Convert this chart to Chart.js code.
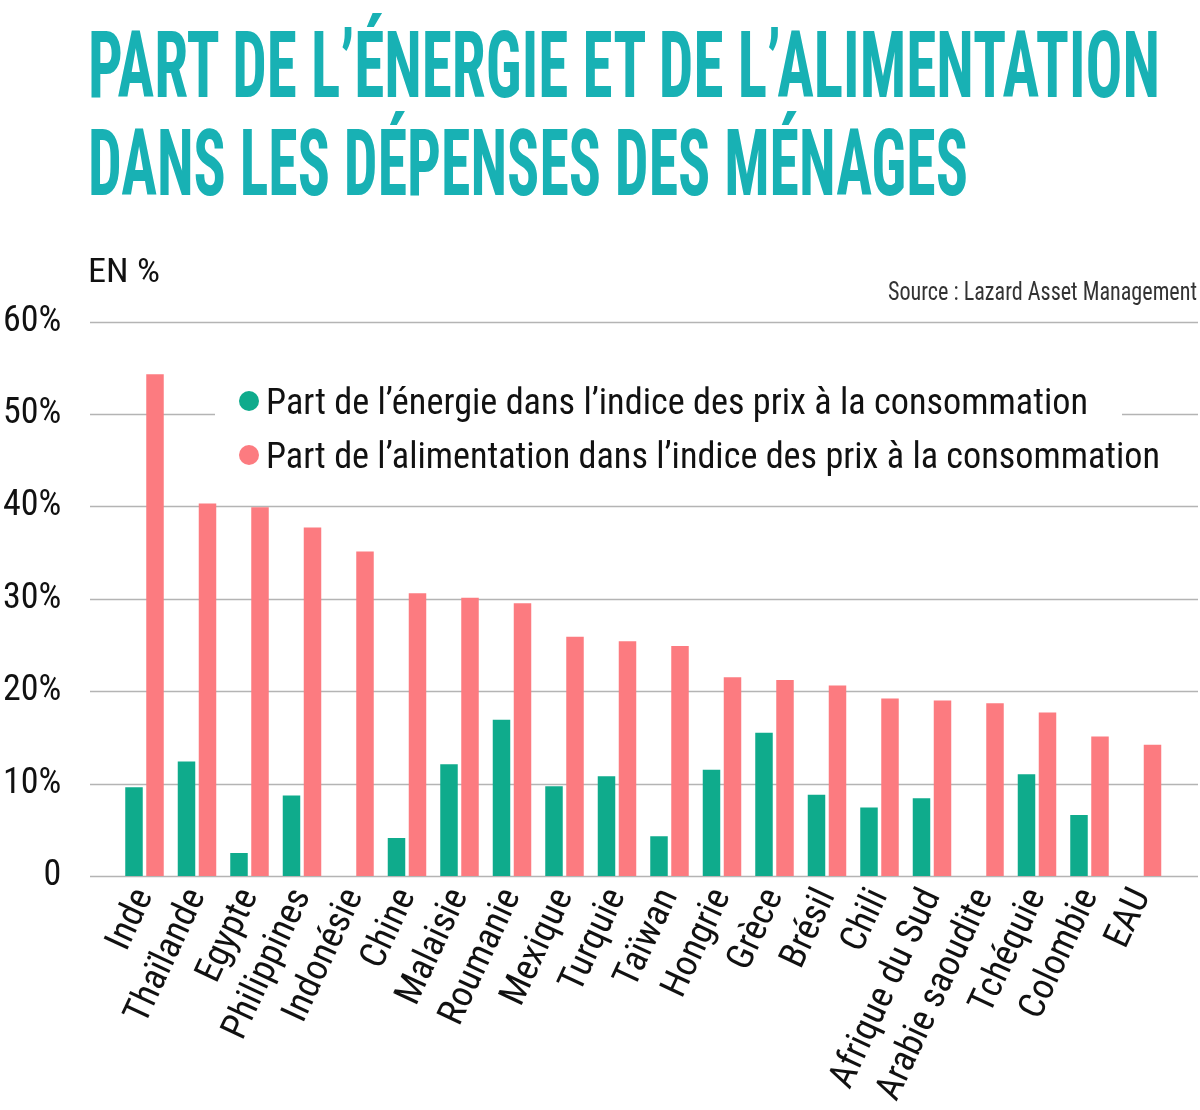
<!DOCTYPE html>
<html><head><meta charset="utf-8">
<script src="https://cdn.jsdelivr.net/npm/chart.js@4.4.1/dist/chart.umd.min.js"></script>
<style>
html,body{margin:0;padding:0;background:#fff;}
#wrap{position:relative;width:1200px;height:1110px;overflow:hidden;background:#fff;}
#chart{position:absolute;left:0;top:0;}
.t{position:absolute;white-space:nowrap;}
.dot{position:absolute;width:20px;height:20px;border-radius:50%;}
#legbg{position:absolute;left:215px;top:384px;width:907px;height:44px;background:#fff;}
</style></head>
<body><div id="wrap">
<canvas id="chart" width="1200" height="1110"></canvas>
<div class="t" id="title1">PART DE L’ÉNERGIE ET DE L’ALIMENTATION</div>
<div class="t" id="title2">DANS LES DÉPENSES DES MÉNAGES</div>
<div class="t" id="unit">EN %</div>
<div class="t" id="source">Source : Lazard Asset Management</div>
<div id="legbg"></div>
<div class="dot" id="dot1"></div>
<div class="dot" id="dot2"></div>
<div class="t" id="leg1"></div>
<div class="t" id="leg2"></div>
</div>
<script>
const categories = ['Inde','Thaïlande','Egypte','Philippines','Indonésie','Chine','Malaisie','Roumanie','Mexique','Turquie','Taïwan','Hongrie','Grèce','Brésil','Chili','Afrique du Sud','Arabie saoudite','Tchéquie','Colombie','EAU'];
const energyShare = [9.6,12.4,2.5,8.7,null,4.1,12.1,16.9,9.7,10.8,4.3,11.5,15.5,8.8,7.4,8.4,null,11.0,6.6,null];
const foodShare = [54.3,40.3,39.9,37.7,35.1,30.6,30.1,29.5,25.9,25.4,24.9,21.5,21.2,20.6,19.2,19.0,18.7,17.7,15.1,14.2];
const seriesNames = ['Part de l’énergie dans l’indice des prix à la consommation','Part de l’alimentation dans l’indice des prix à la consommation'];
const yTicks = [0,10,20,30,40,50,60];

const GREEN = '#0fab8c', RED = '#fc7b80', TEAL = '#18b1b4';
const NARROW = "'Roboto Condensed','DejaVu Sans Condensed',sans-serif";

const mc = document.createElement('canvas').getContext('2d');
function place(id, o){
  const el=document.getElementById(id);
  if(o.text!==undefined) el.textContent=o.text;
  el.style.fontFamily=o.family; el.style.fontSize=o.size+'px'; el.style.fontWeight=o.weight; el.style.lineHeight=o.size+'px';
  el.style.color=o.color;
  mc.font=`${o.weight} ${o.size}px ${o.family}`;
  const m=mc.measureText('Hg');
  const a=m.fontBoundingBoxAscent, d=m.fontBoundingBoxDescent;
  el.style.top=(o.base-((o.size-(a+d))/2+a))+'px';
  if(o.right!==undefined){el.style.right=o.right+'px';el.style.transformOrigin='100% 0';}
  else {el.style.left=o.x+'px';el.style.transformOrigin='0 0';}
  const w=el.getBoundingClientRect().width;
  el.style.transform=`scaleX(${o.width/w})`;
}
place('title1',{x:88,base:97,size:92,weight:'bold',family:NARROW,color:TEAL,width:1072});
place('title2',{x:88,base:195,size:92,weight:'bold',family:NARROW,color:TEAL,width:880});
place('unit',{x:88,base:282,size:33,weight:'normal',family:NARROW,color:'#111',width:72});
place('source',{right:3,base:300,size:26,weight:'normal',family:NARROW,color:'#333',width:309});
place('leg1',{x:266,base:414,size:37,weight:'normal',family:NARROW,color:'#111',width:822,text:seriesNames[0]});
place('leg2',{x:266,base:468,size:37,weight:'normal',family:NARROW,color:'#111',width:894,text:seriesNames[1]});
const d1=document.getElementById('dot1'); d1.style.left='239px'; d1.style.top='391px'; d1.style.background=GREEN;
const d2=document.getElementById('dot2'); d2.style.left='239px'; d2.style.top='445px'; d2.style.background=RED;

const gridPlugin = {
  id:'extGrid',
  beforeDatasetsDraw(chart){
    const y=chart.scales.y, ctx=chart.ctx;
    ctx.save(); ctx.strokeStyle='#b4b4b4'; ctx.lineWidth=1.6;
    y.ticks.forEach(t=>{ const py=Math.round(y.getPixelForValue(t.value))+0.5; ctx.beginPath(); ctx.moveTo(90,py); ctx.lineTo(1198,py); ctx.stroke(); });
    ctx.restore();
  }
};

new Chart(document.getElementById('chart'), {
  type:'bar',
  data:{labels:categories, datasets:[
    {label:seriesNames[0], data:energyShare, backgroundColor:GREEN, categoryPercentage:0.8, barPercentage:0.833},
    {label:seriesNames[1], data:foodShare, backgroundColor:RED, categoryPercentage:0.8, barPercentage:0.833}
  ]},
  options:{
    responsive:false, animation:false, devicePixelRatio:1,
    layout:{padding:{top:321.5,right:31.75,left:0,bottom:0}},
    plugins:{legend:{display:false},tooltip:{enabled:false}},
    scales:{
      x:{
        grid:{display:false,drawTicks:false}, border:{display:false},
        afterFit(s){s.height=234;},
        ticks:{autoSkip:false,minRotation:65,maxRotation:65,padding:6,color:'#111',font:{family:NARROW,size:37}}
      },
      y:{
        min:0,max:60,
        grid:{display:false,drawTicks:false}, border:{display:false},
        afterFit(s){s.width=118.25;},
        afterBuildTicks(s){s.ticks=yTicks.map(v=>({value:v}));},
        ticks:{padding:57,color:'#111',font:{family:NARROW,size:36},callback:v=>v===0?'0':v+'%'}
      }
    }
  },
  plugins:[gridPlugin]
});
</script>
</body></html>
